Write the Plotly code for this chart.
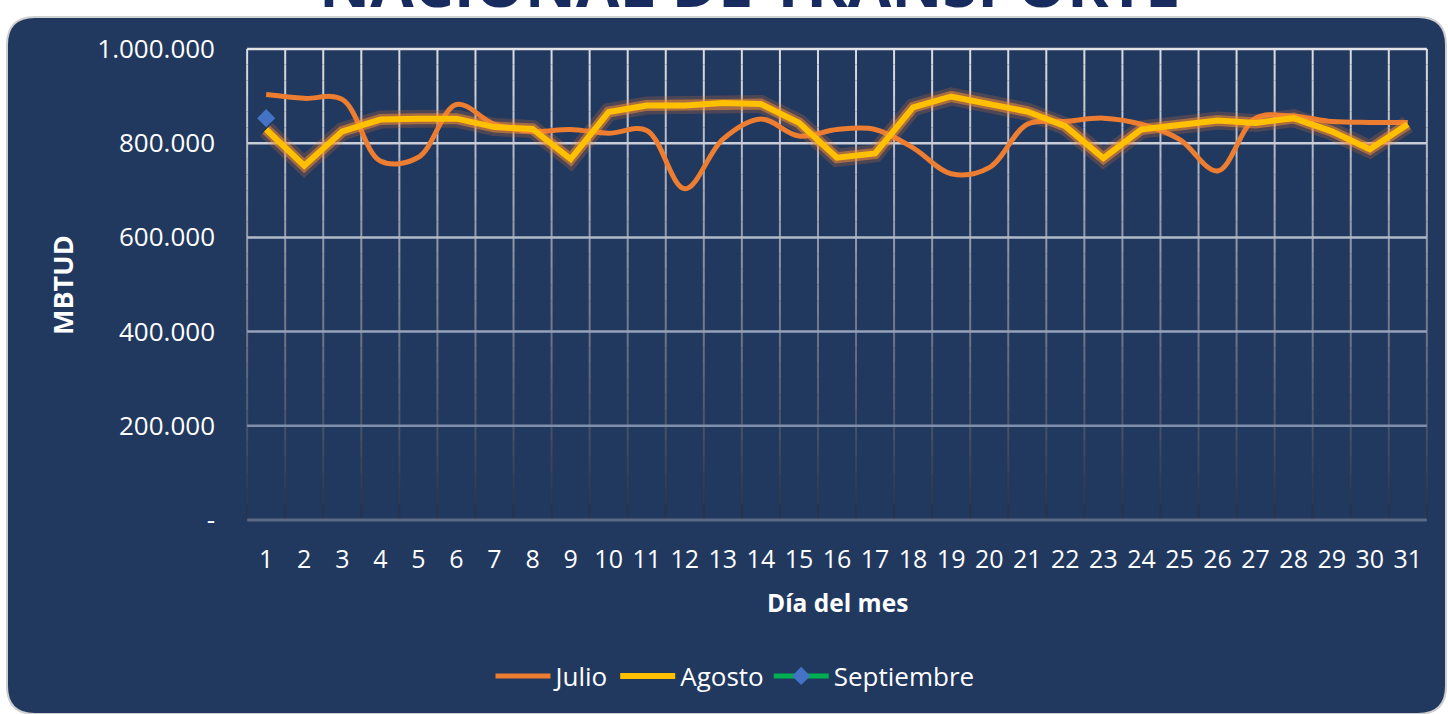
import plotly.graph_objects as go

# ---------------- data ----------------
dias = list(range(1, 32))
dia_labels = [str(d) for d in dias]
julio = [903000, 895000, 893000, 762000, 770000, 882000, 840000, 825000, 829000, 821000,
         827000, 703000, 808000, 851000, 815000, 829000, 829000, 790000, 735000, 748000,
         840000, 846000, 853000, 840000, 808000, 741000, 853000, 857000, 846000, 844000, 844000]
agosto = [829000, 752000, 825000, 850000, 852000, 852000, 834000, 830000, 766000, 866000,
          880000, 880000, 885000, 883000, 843000, 769000, 778000, 876000, 899000, 882000,
          867000, 836000, 768000, 829000, 840000, 848000, 843000, 853000, 825000, 787000, 840000]
sept_dias = [1]
septiembre = [853000]
y_ticks = [0, 200000, 400000, 600000, 800000, 1000000]
y_ticktext = ["-", "200.000", "400.000", "600.000", "800.000", "1.000.000"]

# ---------------- layout geometry ----------------
W, H = 1448, 714
L, R, T, B = 246, 1448 - 1428, 47, 714 - 522
PW, PH = W - L - R, H - T - B
NAVY = "#21385F"
FONT = "Open Sans"

def px(X):
    return (X - L) / PW

def py(Y):
    return (H - B - Y) / PH

fig = go.Figure()

# ---------------- gradient grid (decoration) ----------------
x0, x1 = 0.5, 31.5
def lerp(c0, c1, t):
    return tuple(int(round(a + (b - a) * t)) for a, b in zip(c0, c1))

top_c, bot_c = (222, 222, 226), (38, 48, 72)
NSEG = 30
for k in range(NSEG):
    ya = y_ticks[-1] * k / NSEG
    yb = y_ticks[-1] * (k + 1) / NSEG
    t = 1 - (k + 0.5) / NSEG
    c = lerp(top_c, bot_c, t)
    xs, ys = [], []
    for b in range(32):
        xb = 0.5 + b
        xs += [xb, xb, None]
        ys += [ya, yb, None]
    fig.add_trace(go.Scatter(x=xs, y=ys, mode="lines", line=dict(color="rgb(%d,%d,%d)" % c, width=2),
                             hoverinfo="skip", showlegend=False))

h_cols = {0: (92, 106, 136), 200000: (128, 143, 172), 400000: (150, 162, 186),
          600000: (178, 186, 202), 800000: (200, 205, 216), 1000000: (228, 228, 232)}
for v in y_ticks:
    c = h_cols[v]
    fig.add_trace(go.Scatter(x=[x0, x1], y=[v, v], mode="lines",
                             line=dict(color="rgb(%d,%d,%d)" % c, width=3 if v == 0 else 2.5),
                             hoverinfo="skip", showlegend=False))

# ---------------- data series ----------------
fig.add_trace(go.Scatter(x=dias, y=julio, mode="lines", name="Julio",
                         line=dict(color="#ED7D31", width=5, shape="spline", smoothing=1.0)))
fig.add_trace(go.Scatter(x=dias, y=agosto, mode="lines", showlegend=False, hoverinfo="skip",
                         line=dict(color="rgba(237,125,49,0.22)", width=18)))
fig.add_trace(go.Scatter(x=dias, y=agosto, mode="lines", showlegend=False, hoverinfo="skip",
                         line=dict(color="rgba(245,140,50,0.55)", width=11)))
fig.add_trace(go.Scatter(x=dias, y=agosto, mode="lines", name="Agosto",
                         line=dict(color="#FFC000", width=6)))
fig.add_trace(go.Scatter(x=sept_dias, y=septiembre, mode="lines+markers", name="Septiembre",
                         line=dict(color="#00B050", width=5),
                         marker=dict(symbol="diamond", size=14, color="#4472C4")))

# ---------------- panel (rounded rect) ----------------
pl, pt, pr, pb, rad = 7, 17, 1446, 714, 28
def P(X, Y):
    return "%.5f,%.5f" % (px(X), py(Y))
path = ("M" + P(pl + rad, pt) + " L" + P(pr - rad, pt) + " Q" + P(pr, pt) + " " + P(pr, pt + rad) +
        " L" + P(pr, pb - rad) + " Q" + P(pr, pb) + " " + P(pr - rad, pb) +
        " L" + P(pl + rad, pb) + " Q" + P(pl, pb) + " " + P(pl, pb - rad) +
        " L" + P(pl, pt + rad) + " Q" + P(pl, pt) + " " + P(pl + rad, pt) + " Z")

fig.update_layout(
    width=W, height=H,
    margin=dict(l=L, r=R, t=T, b=B),
    paper_bgcolor="white",
    plot_bgcolor="rgba(0,0,0,0)",
    font=dict(family=FONT, color="white", size=24),
    showlegend=True,
    legend=dict(orientation="h", x=px(735), xanchor="center", y=py(676), yanchor="middle",
                font=dict(size=26, color="white"), bgcolor="rgba(0,0,0,0)", itemwidth=55,
                traceorder="normal"),
    shapes=[dict(type="path", path=path, xref="paper", yref="paper", layer="below",
                 fillcolor=NAVY, line=dict(color="#CFCFCF", width=2))],
    annotations=[
        dict(text="<b>NACIONAL DE TRANSPORTE</b>", xref="paper", yref="paper", x=px(749), y=py(27),
             xanchor="center", yanchor="bottom", showarrow=False,
             font=dict(family=FONT, size=63, color="#172B5E")),
        dict(text="<b>Día del mes</b>", xref="paper", yref="paper", x=px(837), y=py(602),
             xanchor="center", yanchor="middle", showarrow=False,
             font=dict(family=FONT, size=24.5, color="white")),
        dict(text="<b>MBTUD</b>", xref="paper", yref="paper", x=px(62), y=py(285),
             xanchor="center", yanchor="middle", showarrow=False, textangle=-90,
             font=dict(family=FONT, size=27, color="white")),
    ],
    xaxis=dict(range=[0.47, 31.53], tickvals=dias, ticktext=dia_labels, showgrid=False,
               zeroline=False, showline=False, ticks="", ticklabelstandoff=20,
               tickfont=dict(size=25, color="white"), fixedrange=True),
    yaxis=dict(range=[-4000, 1004000], tickvals=y_ticks, ticktext=y_ticktext, showgrid=False,
               zeroline=False, showline=False, ticks="", ticklabelstandoff=30,
               tickfont=dict(size=26, color="white"), fixedrange=True),
)

fig.write_html("out.html", config={"displayModeBar": False},
               post_script="document.body.style.margin='0px';")
